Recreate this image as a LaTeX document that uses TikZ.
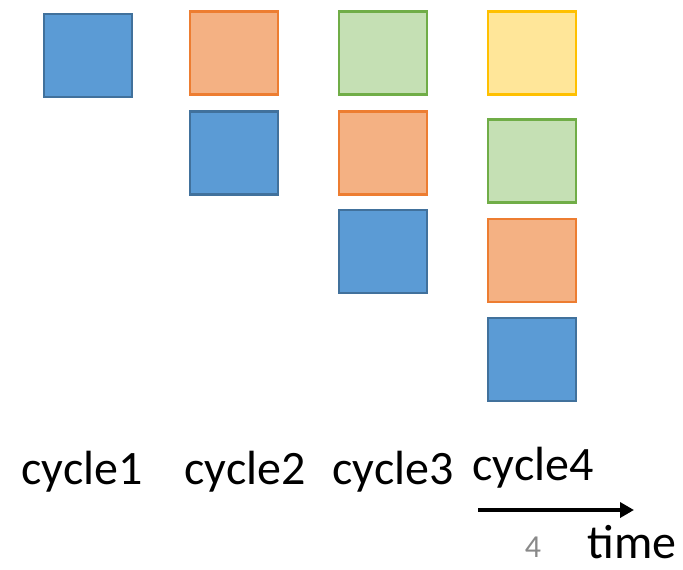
\documentclass[tikz,border=0pt]{standalone}
\usepackage{fontspec}
\setmainfont{Carlito}
\usetikzlibrary{arrows.meta}
\definecolor{bluefill}{HTML}{5B9BD5}
\definecolor{blueline}{HTML}{41719C}
\definecolor{orangefill}{HTML}{F4B183}
\definecolor{orangeline}{HTML}{ED7D31}
\definecolor{greenfill}{HTML}{C5E0B4}
\definecolor{greenline}{HTML}{70AD47}
\definecolor{yellowfill}{HTML}{FFE699}
\definecolor{yellowline}{HTML}{FFC000}
\definecolor{pagenum}{HTML}{898989}
\tikzset{
  stage/.style={rectangle, minimum width=88pt, minimum height=83pt, line width=2.8pt, inner sep=0pt},
  bluebox/.style={stage, fill=bluefill, draw=blueline},
  orangebox/.style={stage, fill=orangefill, draw=orangeline},
  greenbox/.style={stage, fill=greenfill, draw=greenline},
  yellowbox/.style={stage, fill=yellowfill, draw=yellowline},
  label/.style={font=\fontsize{48pt}{56pt}\selectfont, anchor=base, inner sep=0pt},
}
\begin{document}
\begin{tikzpicture}[x=1pt, y=-1pt]
\useasboundingbox (0,0) rectangle (683,570);
% cycle 1
\node[bluebox] (b1) at (88,55.5) {};
% cycle 2
\node[orangebox] (o2) at (234,53) {};
\node[bluebox] (b2) at (234,153) {};
% cycle 3
\node[greenbox] (g3) at (383,53) {};
\node[orangebox] (o3) at (383,153) {};
\node[bluebox] (b3) at (383,251.5) {};
% cycle 4
\node[yellowbox] (y4) at (532,53) {};
\node[greenbox] (g4) at (532,161) {};
\node[orangebox] (o4) at (532,260.5) {};
\node[bluebox] (b4) at (532,359.5) {};
% labels
\node[label] (c1) at (82,484) {cycle1};
\node[label] (c2) at (245,484) {cycle2};
\node[label] (c3) at (393,484) {cycle3};
\node[label] (c4) at (533,480) {cycle4};
% time axis
\coordinate (t0) at (478,510);
\coordinate (t1) at (634,510);
\draw[line width=4.5pt, -{Triangle[length=14pt,width=15pt]}] (t0) -- (t1);
\node[label] (tm) at (632,558) {time};
\node[anchor=base, inner sep=0pt, text=pagenum, font=\fontsize{32pt}{36pt}\selectfont] (pn) at (533,557) {4};
\end{tikzpicture}
\end{document}
